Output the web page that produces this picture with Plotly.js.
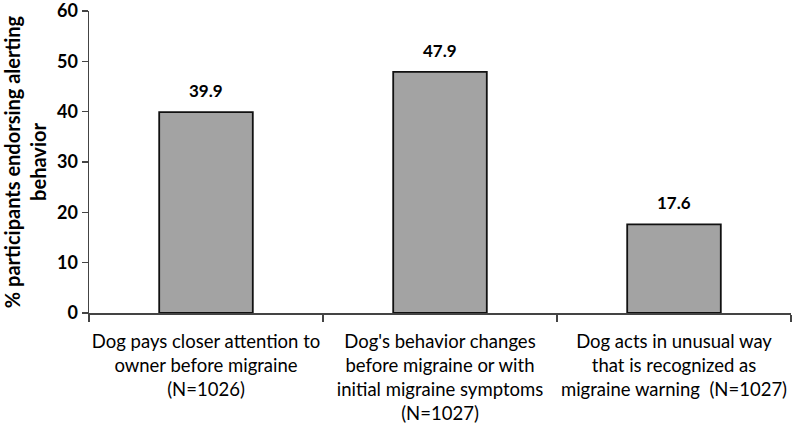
<!DOCTYPE html>
<html><head><meta charset="utf-8">
<script src="https://cdn.plot.ly/plotly-3.0.1.min.js"></script>
<style>html,body{margin:0;padding:0;background:#fff}#c{width:792px;height:424px}</style>
</head><body><div id="c"></div>
<script>
var categories = [
  "Dog pays closer attention to<br>owner before migraine<br>(N=1026)",
  "Dog's behavior changes<br>before migraine or with<br>initial migraine symptoms<br>(N=1027)",
  "Dog acts in unusual way<br>that is recognized as<br>migraine warning  (N=1027)"
];
var values = [39.9, 47.9, 17.6];
var valueLabels = ["39.9", "47.9", "17.6"];
var yTicks = [0, 10, 20, 30, 40, 50, 60];

var font = "Lato, 'Open Sans', sans-serif";
var trace = {
  type: "bar", x: categories, y: values,
  marker: {color: "#a3a3a3", line: {color: "#111", width: 1.8}},
  hoverinfo: "none"
};
var annotations = categories.map(function(c, i){
  return {x: c, y: values[i], text: "<b>" + valueLabels[i] + "</b>", showarrow: false,
    yanchor: "bottom", yshift: 9, font: {family: font, size: 17, color: "#000"}};
});
var layout = {
  width: 792, height: 424,
  margin: {l: 89, r: 1, t: 11, b: 111},
  paper_bgcolor: "#fff", plot_bgcolor: "#fff",
  bargap: 0.6,
  showlegend: false,
  font: {family: font, color: "#000"},
  xaxis: {
    type: "category", tickson: "boundaries", ticks: "outside", ticklen: 7, tickwidth: 1.5, tickcolor: "#444",
    showline: true, linecolor: "#444", linewidth: 1.5, showgrid: false, zeroline: false,
    tickfont: {family: font, size: 18.5, color: "#000"}, tickangle: 0, ticklabelstandoff: 11
  },
  yaxis: {
    range: [0, 60], tickvals: yTicks, ticktext: yTicks.map(function(v){return "<b>" + v + "</b>";}),
    ticks: "outside", ticklen: 6, tickwidth: 1.5, tickcolor: "#444",
    showline: true, linecolor: "#444", linewidth: 1.5, showgrid: false, zeroline: false,
    ticklabeloverflow: "allow",
    tickfont: {family: font, size: 18, color: "#000"},
    title: {text: "<b>% participants endorsing alerting<br>behavior</b>", font: {family: font, size: 20, color: "#000"}, standoff: 8}
  },
  annotations: annotations
};
Plotly.newPlot("c", [trace], layout, {staticPlot: true});
</script></body></html>
